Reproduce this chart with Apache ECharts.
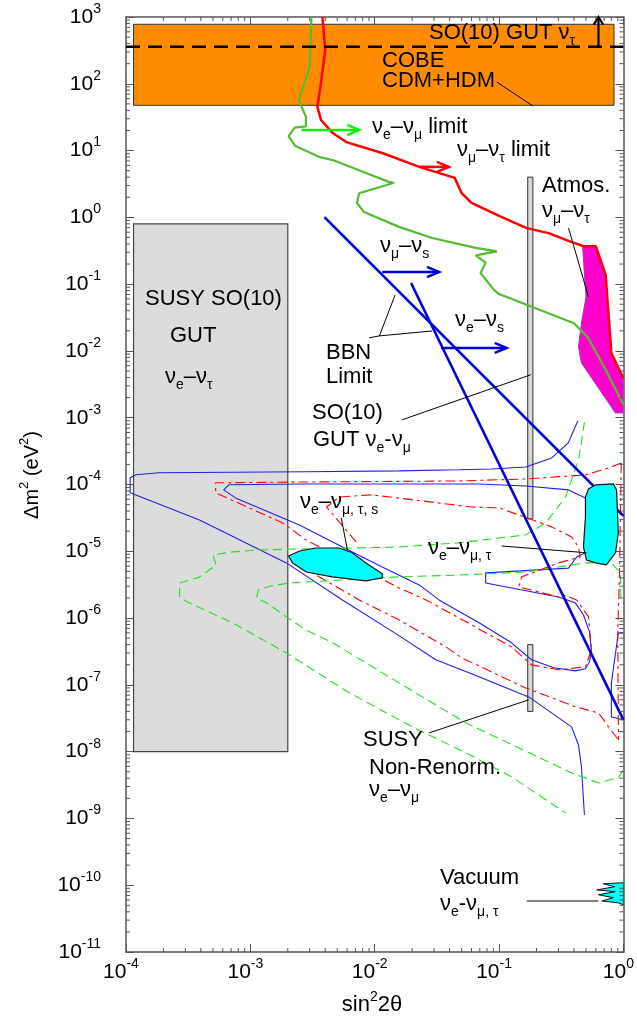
<!DOCTYPE html>
<html><head><meta charset="utf-8">
<script src="https://cdn.jsdelivr.net/npm/echarts@6/dist/echarts.min.js"></script>
<style>html,body{margin:0;padding:0;background:#fff}#c{width:637px;height:1019px}</style>
</head><body><div id="c"></div>
<script>
const FONT = '"Liberation Sans", Arial, sans-serif';
const X_MIN = 1e-4, X_MAX = 1, Y_MIN = 1e-11, Y_MAX = 1e3;

// ---------- data (sin^2 2theta, delta m^2 in eV^2) ----------
const cobeBox = [[1.15e-4,47.6],[0.84,47.6],[0.84,778],[1.15e-4,778]];
const susyGutBox = [[1.15e-4,1e-8],[2e-3,1e-8],[2e-3,0.8],[1.15e-4,0.8]];
const atmosGutBar = [[0.17,3.06e-5],[0.187,3.06e-5],[0.187,4.0],[0.17,4.0]];
const susyNonRenormBar = [[0.17,4e-8],[0.187,4e-8],[0.187,4e-7],[0.17,4e-7]];
const so10GutTauLevel = [[1e-4,360],[1,360]];
const so10GutTauArrow = [[0.63,360],[0.63,1000]];

const veVmuLimit = [[3.1e-3,1000],[3.0e-3,180],[2.45e-3,57],[2.8e-3,32],[2.8e-3,23],[2.27e-3,22],[2.03e-3,16.5],[2.3e-3,11.7],[3.6e-3,8.0],[4.6e-3,7.2],[8.5e-3,4.6],[1.3e-2,3.4],[1.43e-2,3.3],[7.5e-3,2.3],[7.2e-3,1.65],[8.2e-3,1.2],[1.57e-2,0.72],[2.9e-2,0.49],[6.5e-2,0.35],[9.6e-2,0.31],[6.5e-2,0.27],[7.8e-2,0.21],[7.1e-2,0.147],[9.1e-2,0.082],[0.1,0.071],[0.183,0.046],[0.4,0.026],[0.52,0.0157],[0.72,5.2e-3],[1.0,1.56e-3]];
const vmuVtauLimit = [[3.8e-3,1000],[4.0e-3,320],[3.7e-3,103],[3.46e-3,45],[3.7e-3,28.7],[4.6e-3,18.3],[5.9e-3,13.4],[1.15e-2,9.2],[2.28e-2,5.7],[4.4e-2,3.9],[5.0e-2,2.3],[6.0e-2,1.65],[0.1,1.05],[0.167,0.69],[0.25,0.58],[0.38,0.43],[0.48,0.37],[0.6,0.37],[0.72,0.137],[0.8,9.3e-3],[1.0,3.9e-3]];
const atmosRegion = [[0.47,0.36],[0.6,0.37],[0.72,0.137],[0.79,9.3e-3],[1.0,3.9e-3],[1.0,1.18e-3],[0.86,1.18e-3],[0.76,1.67e-3],[0.46,6.6e-3],[0.435,0.0115],[0.46,0.0262],[0.5,0.064]];

const bbnVmuVs = [[3.94e-3,1.01],[1.0,3.39e-5]];
const bbnVeVs = [[1.96e-2,0.104],[1.0,2.99e-8]];

const veVmuArrow = [[2.58e-3,20.3],[7.5e-3,20.3]];
const vmuVtauArrow = [[2.28e-2,5.7],[3.95e-2,5.7]];
const vmuVsArrow = [[1.15e-2,0.152],[3.29e-2,0.152]];
const veVsArrow = [[3.41e-2,0.0111],[0.115,0.0111]];

const mswOuterBlue = [[0.43,9.0e-4],[0.36,4.2e-4],[0.265,2.5e-4],[0.164,1.83e-4],[0.0875,1.71e-4],[0.0475,1.66e-4],[0.0157,1.6e-4],[2.77e-3,1.55e-4],[1.84e-4,1.5e-4],[1.2e-4,1.4e-4],[1.08e-4,1.26e-4],[1.08e-4,7.5e-5],[3.9e-4,2.95e-5],[1.95e-3,6.7e-6],[5.5e-3,1.87e-6],[1.49e-2,5.8e-7],[3.1e-2,2.37e-7],[6.9e-2,1.32e-7],[0.173,6.6e-8],[0.383,2.35e-8],[0.435,1.26e-8],[0.46,5.9e-9],[0.477,1.9e-9],[0.486,1.13e-9]];
const mswInnerBlue = [[0.495,6.3e-5],[0.362,8.3e-5],[0.164,9.5e-5],[0.069,1.02e-4],[2.77e-3,1.02e-4],[6.7e-4,9.9e-5],[6.1e-4,8.3e-5],[7.6e-4,6.3e-5],[2.48e-3,2.48e-5],[5.5e-3,1.16e-5],[0.0115,5.84e-6],[0.0228,3.14e-6],[0.0329,1.87e-6],[0.069,8.5e-7],[0.126,4.26e-7],[0.183,2.37e-7],[0.275,1.8e-7],[0.41,1.62e-7],[0.495,1.74e-7],[0.533,2.2e-7],[0.553,3.34e-7],[0.533,6.2e-7],[0.477,1.12e-6],[0.41,1.69e-6],[0.30,2.07e-6],[0.078,3.36e-6],[0.078,4.75e-6],[0.362,5.6e-6],[0.42,8.2e-6],[0.495,9.5e-6]];
const edgeBlue = [[1.0,6.0e-7],[0.91,6.0e-7],[0.8,1.07e-7],[0.8,3.3e-8],[1.0,3.0e-8]];

const redOuter = [[0.96,2.1e-4],[0.80,1.83e-4],[0.495,1.39e-4],[0.164,1.21e-4],[0.0475,1.13e-4],[2.77e-3,1.09e-4],[5.26e-4,1.06e-4],[5.26e-4,7.5e-5],[1.82e-3,2.66e-5],[2.8e-3,1.48e-5],[0.0157,2.83e-6],[0.0259,1.87e-6],[0.126,3.7e-7],[0.183,1.99e-7],[0.301,1.68e-7],[0.495,1.86e-7],[0.553,3.34e-7],[0.524,1.04e-6],[0.42,1.87e-6],[0.30,2.38e-6]];
const redInner = [[7.1e-3,1.38e-5],[4.1e-3,4.6e-5],[5.2e-3,6.5e-5],[9.5e-3,7.0e-5],[0.0605,4.6e-5],[0.1,4.47e-5],[0.265,2.32e-5],[0.383,1.64e-5],[0.435,1.16e-5],[0.45,8.2e-6],[0.301,6.7e-6],[0.152,4.14e-6],[0.144,2.93e-6],[0.30,2.07e-6]];
const redLower = [[2.48e-3,6.25e-6],[3.16e-3,4.75e-6],[7.5e-3,1.87e-6],[0.0157,9.4e-7],[0.0374,3.7e-7],[0.05,2.54e-7],[0.164,9.0e-8],[0.41,4.7e-8],[0.63,3.8e-8],[0.76,2.35e-8],[0.912,1.5e-8]];
const redEdge = [[0.96,2.1e-4],[0.93,4.7e-6],[0.9,6.0e-7],[0.912,1.5e-8]];

const greenOuter = [[0.486,8.6e-4],[0.435,2.33e-4],[0.343,6.5e-5],[0.237,2.66e-5],[0.164,1.76e-5],[0.0475,1.34e-5],[0.0157,1.16e-5],[1.19e-3,1.05e-5],[7.2e-4,9.8e-6],[5.0e-4,8.8e-6],[5.3e-4,6.25e-6],[3.9e-4,4.1e-6],[2.7e-4,3.36e-6],[2.7e-4,2.07e-6],[3.1e-4,1.75e-6],[7.2e-4,8.5e-7],[1.95e-3,3.0e-7],[6.25e-3,7.6e-8],[0.02,2.35e-8],[0.054,9.6e-9],[0.126,4.2e-9],[0.343,1.21e-9]];
const greenInner = [[1.0,5.3e-9],[0.912,4.1e-9],[0.63,3.4e-9],[0.383,4.8e-9],[0.054,2.7e-8],[0.0157,1.07e-7],[4.6e-3,4.26e-7],[2.8e-3,6.65e-7],[1.95e-3,1.04e-6],[1.35e-3,1.69e-6],[1.12e-3,2.0e-6],[1.16e-3,2.64e-6],[1.43e-3,3.0e-6],[2.07e-3,3.36e-6],[0.0157,4.14e-6],[0.0475,4.4e-6],[0.164,4.9e-6],[0.495,6.7e-6],[0.80,6.7e-6],[0.946,4.75e-6],[0.955,1.87e-6]];

const smaBlob = [[2.03e-3,8.5e-6],[2.48e-3,1.01e-5],[3.4e-3,1.12e-5],[5.2e-3,1.12e-5],[6.6e-3,9.5e-6],[8.5e-3,6.7e-6],[1.15e-2,4.6e-6],[1.15e-2,4.0e-6],[8.5e-3,3.6e-6],[4.56e-3,4.14e-6],[2.82e-3,4.9e-6],[2.18e-3,6.7e-6]];
const lmaBlob = [[0.495,6.5e-5],[0.524,8.6e-5],[0.6,9.9e-5],[0.83,1.02e-4],[0.88,8.3e-5],[0.91,1.88e-5],[0.863,9.5e-6],[0.73,6.25e-6],[0.6,6.7e-6],[0.505,7.4e-6],[0.477,1.16e-5],[0.495,3.27e-5]];
const vacuumBlob = [[1.0,1.09e-10],[0.69,1.05e-10],[0.85,9.5e-11],[0.61,8.5e-11],[0.86,8.0e-11],[0.63,7.2e-11],[0.83,6.5e-11],[0.67,5.8e-11],[0.91,5.45e-11],[1.0,5.1e-11]];

const leaderCobe = [[0.096,106],[0.187,46.5]];
const leaderAtmos = [[0.362,0.69],[0.524,0.064]];
const leaderBbnA = [[9.0e-3,0.0157],[1.09e-2,0.0168],[1.46e-2,0.069]];
const leaderBbnB = [[1.09e-2,0.0168],[2.89e-2,0.0199]];
const leaderSo10 = [[1.66e-2,9.3e-4],[0.18,4.4e-3]];
const leaderSma = [[5.38e-3,3.16e-5],[6.03e-3,1.05e-5]];
const leaderLma = [[0.105,1.2e-5],[0.505,9.5e-6]];
const leaderSusy = [[2.74e-2,1.91e-8],[0.173,5.96e-8]];
const leaderVacuum = [[0.167,5.8e-11],[0.63,5.8e-11]];

// minor tick values (axis furniture)
const xMinorTicks = []; for (let d = -4; d < 0; d++) for (let k = 2; k <= 9; k++) xMinorTicks.push(k * Math.pow(10, d));
const yMinorTicks = []; for (let d = -11; d < 3; d++) for (let k = 2; k <= 9; k++) yMinorTicks.push(k * Math.pow(10, d));

// ---------- helpers ----------
function clipOf(params){ const c = params.coordSys; return {type:'rect', shape:{x:c.x, y:c.y, width:c.width, height:c.height}}; }
function polygonSeries(points, fill, stroke, lw, z){
  return {type:'custom', coordinateSystem:'cartesian2d', z, silent:true, data: points,
    renderItem(params, api){
      if (params.dataIndex !== 0) return null;
      return {type:'polygon', shape:{points: points.map(p => api.coord(p))},
        style:{fill, stroke, lineWidth: lw}, clipPath: clipOf(params)};
    }};
}
function lineSeries(data, color, width, type, z){
  return {type:'line', data, symbol:'none', showSymbol:false, silent:true, clip:true, z,
    lineStyle:{color, width, type: type || 'solid'}};
}
function arrowSeries(seg, color, width, L, w, z){
  return {type:'custom', coordinateSystem:'cartesian2d', z, silent:true, data: seg,
    renderItem(params, api){
      if (params.dataIndex !== 0) return null;
      const a = api.coord(seg[0]), b = api.coord(seg[1]);
      const ang = Math.atan2(b[1]-a[1], b[0]-a[0]);
      const h1 = [b[0]-L*Math.cos(ang-w), b[1]-L*Math.sin(ang-w)];
      const h2 = [b[0]-L*Math.cos(ang+w), b[1]-L*Math.sin(ang+w)];
      return {type:'group', children:[
        {type:'polyline', shape:{points:[a,b]}, style:{stroke:color, lineWidth:width, fill:null}},
        {type:'polyline', shape:{points:[h1,b,h2]}, style:{stroke:color, lineWidth:width, fill:null}}]};
    }};
}
function minorTickSeries(values, isX){
  return {type:'custom', coordinateSystem:'cartesian2d', z:20, silent:true,
    data: values.map(v => isX ? [v, Y_MIN] : [X_MIN, v]),
    renderItem(params, api){
      const v = api.value(isX ? 0 : 1);
      const st = {stroke:'#555', lineWidth:1};
      if (isX){
        const b = api.coord([v, Y_MIN]), t = api.coord([v, Y_MAX]);
        return {type:'group', children:[
          {type:'line', shape:{x1:b[0], y1:b[1], x2:b[0], y2:b[1]-4}, style:st},
          {type:'line', shape:{x1:t[0], y1:t[1], x2:t[0], y2:t[1]+4}, style:st}]};
      }
      const l = api.coord([X_MIN, v]), r = api.coord([X_MAX, v]);
      return {type:'group', children:[
        {type:'line', shape:{x1:l[0], y1:l[1], x2:l[0]+4, y2:l[1]}, style:st},
        {type:'line', shape:{x1:r[0], y1:r[1], x2:r[0]-4, y2:r[1]}, style:st}]};
    }};
}

const supFmt = v => '{b|10}{s|' + Math.round(Math.log10(v)) + '}';
const tickRich = {
  b:{fontSize:21, lineHeight:30, verticalAlign:'middle', fontFamily:FONT, color:'#000'},
  s:{fontSize:14, lineHeight:14, verticalAlign:'top', fontFamily:FONT, color:'#000'}
};
const axisLineStyle = {color:'#555', width:1.5};
function axisCommon(extra){
  return Object.assign({type:'log', logBase:10, interval:1, splitLine:{show:false},
    axisLine:{show:true, lineStyle:axisLineStyle},
    axisTick:{show:true, inside:true, length:8, lineStyle:{color:'#555', width:1}},
    minorTick:{show:false}}, extra);
}

// main text centred at line top + 11; subscript centred 8px lower
const RICH = {
  m:{fontSize:22, lineHeight:22, verticalAlign:'top', fontFamily:FONT, fill:'#000'},
  s:{fontSize:14, lineHeight:26, verticalAlign:'bottom', fontFamily:FONT, fill:'#000'}
};
function txt(x, yc, text){
  return {type:'text', x, y: yc - 11, z:100, silent:true,
    style:{text, rich:RICH, fill:'#000', font:'22px ' + FONT, align:'left', verticalAlign:'top'}};
}

const labels = [
  txt(429, 33, '{m|SO(10) GUT ν}{s|τ}'),
  txt(382, 61, '{m|COBE}'),
  txt(382, 81, '{m|CDM+HDM}'),
  txt(372, 127, '{m|ν}{s|e}{m|–ν}{s|μ}{m| limit}'),
  txt(457, 150, '{m|ν}{s|μ}{m|–ν}{s|τ}{m| limit}'),
  txt(542, 186, '{m|Atmos.}'),
  txt(542, 211, '{m|ν}{s|μ}{m|–ν}{s|τ}'),
  txt(145, 299, '{m|SUSY SO(10)}'),
  txt(170, 336, '{m|GUT}'),
  txt(165, 377, '{m|ν}{s|e}{m|–ν}{s|τ}'),
  txt(380, 246, '{m|ν}{s|μ}{m|–ν}{s|s}'),
  txt(455, 320, '{m|ν}{s|e}{m|–ν}{s|s}'),
  txt(326, 353, '{m|BBN}'),
  txt(326, 377, '{m|Limit}'),
  txt(312, 413, '{m|SO(10)}'),
  txt(313, 440, '{m|GUT ν}{s|e}{m|-ν}{s|μ}'),
  txt(300, 502, '{m|ν}{s|e}{m|–ν}{s|μ, τ, s}'),
  txt(428, 548, '{m|ν}{s|e}{m|–ν}{s|μ, τ}'),
  txt(363, 740, '{m|SUSY}'),
  txt(369, 768, '{m|Non-Renorm.}'),
  txt(369, 790, '{m|ν}{s|e}{m|–ν}{s|μ}'),
  txt(440, 878, '{m|Vacuum}'),
  txt(440, 904, '{m|ν}{s|e}{m|-ν}{s|μ, τ}'),
  {type:'text', x:372, y:1005, z:100, silent:true,
    style:{text:'{m|sin}{p|2}{m|2θ}', align:'center', verticalAlign:'middle', fill:'#000',
      rich:{m:{fontSize:22, lineHeight:30, verticalAlign:'middle', fontFamily:FONT, fill:'#000'},
            p:{fontSize:14, lineHeight:14, verticalAlign:'top', fontFamily:FONT, fill:'#000'}}}},
  {type:'text', x:32, y:475, rotation:Math.PI/2, z:100, silent:true,
    style:{text:'{m|Δm}{p|2}{m| (eV}{p|2}{m|)}', align:'center', verticalAlign:'middle', fill:'#000',
      rich:{m:{fontSize:20, lineHeight:28, verticalAlign:'middle', fontFamily:FONT, fill:'#000'},
            p:{fontSize:13, lineHeight:13, verticalAlign:'top', fontFamily:FONT, fill:'#000'}}}}
];

const BLUE_THIN = '#1f1fe8', RED = '#ff0000', GREEN_DASH = '#22e022';
const series = [
  polygonSeries(cobeBox, '#ff8c00', '#333', 1, 1),
  polygonSeries(susyGutBox, '#dcdcdc', '#444', 1.2, 1),
  polygonSeries(atmosGutBar, '#d8d8d8', '#333', 1, 2),
  polygonSeries(susyNonRenormBar, '#d8d8d8', '#333', 1, 2),
  lineSeries(mswOuterBlue, BLUE_THIN, 1.1, 'solid', 3),
  lineSeries(mswInnerBlue, BLUE_THIN, 1.1, 'solid', 3),
  lineSeries(edgeBlue, BLUE_THIN, 1.1, 'solid', 3),
  lineSeries(redOuter, RED, 1.1, [10,4,3,4], 3),
  lineSeries(redInner, RED, 1.1, [10,4,3,4], 3),
  lineSeries(redLower, RED, 1.1, [10,4,3,4], 3),
  lineSeries(redEdge, RED, 1.1, [10,4,3,4], 3),
  lineSeries(greenOuter, GREEN_DASH, 1.1, [9,5], 3),
  lineSeries(greenInner, GREEN_DASH, 1.1, [9,5], 3),
  polygonSeries(atmosRegion, '#ff00cc', '#9933cc', 1, 4),
  lineSeries(veVmuLimit, '#55bb33', 2.2, 'solid', 5),
  lineSeries(vmuVtauLimit, RED, 2.5, 'solid', 5),
  lineSeries(bbnVmuVs, '#0000dd', 2.6, 'solid', 5),
  lineSeries(bbnVeVs, '#0000dd', 2.6, 'solid', 5),
  polygonSeries(smaBlob, '#00ffff', '#111', 1.2, 6),
  polygonSeries(lmaBlob, '#00ffff', '#111', 1.2, 6),
  polygonSeries(vacuumBlob, '#00ffff', '#111', 1, 6),
  lineSeries(so10GutTauLevel, '#000', 2.5, [14,8], 7),
  arrowSeries(so10GutTauArrow, '#000', 2.2, 9, 0.55, 7),
  arrowSeries(veVmuArrow, '#11ee11', 2.5, 13, 0.4, 7),
  arrowSeries(vmuVtauArrow, RED, 2.5, 13, 0.4, 7),
  arrowSeries(vmuVsArrow, '#0000dd', 2.5, 13, 0.4, 7),
  arrowSeries(veVsArrow, '#0000dd', 2.5, 13, 0.4, 7),
  lineSeries(leaderCobe, '#000', 1, 'solid', 8),
  lineSeries(leaderAtmos, '#000', 1, 'solid', 8),
  lineSeries(leaderBbnA, '#000', 1, 'solid', 8),
  lineSeries(leaderBbnB, '#000', 1, 'solid', 8),
  lineSeries(leaderSo10, '#000', 1, 'solid', 8),
  lineSeries(leaderSma, '#000', 1, 'solid', 8),
  lineSeries(leaderLma, '#000', 1, 'solid', 8),
  lineSeries(leaderSusy, '#000', 1, 'solid', 8),
  lineSeries(leaderVacuum, '#000', 1, 'solid', 8),
  minorTickSeries(xMinorTicks, true),
  minorTickSeries(yMinorTicks, false)
];

const chart = echarts.init(document.getElementById('c'), null, {renderer:'canvas'});
chart.setOption({
  animation:false,
  backgroundColor:'#fff',
  grid:{left:126, top:17, right:12, bottom:67, containLabel:false},
  xAxis:[
    axisCommon({min:X_MIN, max:X_MAX, position:'bottom',
      axisLabel:{formatter:supFmt, rich:tickRich, margin:5, padding:[0,10,0,0], showMinLabel:true, showMaxLabel:true}}),
    axisCommon({min:X_MIN, max:X_MAX, position:'top', axisLabel:{show:false}})
  ],
  yAxis:[
    axisCommon({min:Y_MIN, max:Y_MAX, position:'left',
      axisLabel:{formatter:supFmt, rich:tickRich, margin:25, showMinLabel:true, showMaxLabel:true}}),
    axisCommon({min:Y_MIN, max:Y_MAX, position:'right', axisLabel:{show:false}})
  ],
  series: series,
  graphic:{elements: labels}
});
</script>
</body></html>
